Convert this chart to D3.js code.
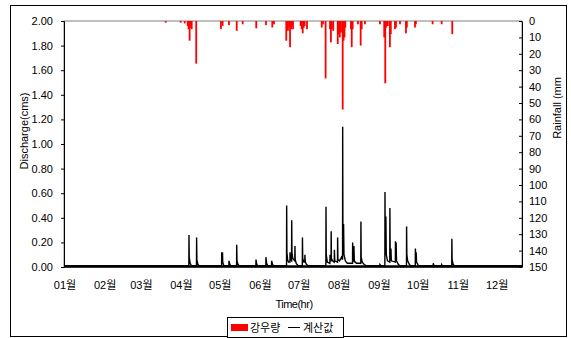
<!DOCTYPE html>
<html>
<head>
<meta charset="utf-8">
<script src="https://cdn.jsdelivr.net/npm/d3@7"></script>
<style>
  body { margin: 0; background: #fff; }
  text { font-family: "Liberation Sans", Arial, "Noto Sans CJK KR", sans-serif; fill: #000; }
</style>
</head>
<body>
<svg id="chart" width="571" height="338"></svg>
<script>
// month labels, placed at day of year
var monthDays = [0, 31, 59, 90, 120, 151, 181, 212, 243, 273, 304, 334];
var monthLabels = ["01월", "02월", "03월", "04월", "05월", "06월", "07월", "08월", "09월", "10월", "11월", "12월"];

var qTicks = [0, 0.2, 0.4, 0.6, 0.8, 1.0, 1.2, 1.4, 1.6, 1.8, 2.0];
var rainTicks = [0, 10, 20, 30, 40, 50, 60, 70, 80, 90, 100, 110, 120, 130, 140, 150];

// rainfall [day, mm]
var rainfall = [
  [78.6, 1], [90.2, 1], [93.3, 1.5], [95.6, 3], [96.3, 5], [97.1, 12], [97.8, 4], [98.7, 5], [102.2, 26],
  [121.3, 5], [122.6, 3], [127.5, 2.5], [133.5, 6], [138.1, 2], [148.6, 4.5], [156.1, 2.5], [161.0, 4], [162.3, 2],
  [171.8, 12], [172.4, 5], [173.1, 6], [174.0, 4], [174.7, 16], [175.5, 5], [176.2, 3], [177.0, 5],
  [182.9, 3], [183.7, 5], [184.5, 7.5], [185.3, 4], [186.0, 3], [187.8, 5],
  [199.2, 4], [200.2, 2], [202.2, 35],
  [205.6, 5], [206.3, 13], [207.0, 5], [208.1, 6],
  [211.6, 14], [212.3, 8], [213.2, 10], [214.1, 7], [215.4, 54], [216.1, 12], [216.8, 10], [217.4, 4],
  [221.8, 5], [222.4, 16], [223.1, 5], [227.2, 2], [229.3, 15], [230.1, 5], [232.6, 2],
  [244.2, 2], [247.5, 10], [248.3, 38], [249.0, 4], [250.3, 3], [251.9, 16], [252.6, 8],
  [255.8, 5], [256.6, 4], [259.7, 2], [264.3, 7.5], [265.0, 4], [271.3, 4], [272.0, 2],
  [284.9, 2], [291.9, 2], [300.1, 8]
];

// computed discharge [day, cms]
var discharge = [
  [0, 0.01],
  [96.5, 0.01], [96.6, 0.26], [96.8, 0.08], [97.5, 0.03], [98.5, 0.01],
  [102.4, 0.01], [102.5, 0.24], [102.7, 0.06], [103.5, 0.02], [104.5, 0.01],
  [121.8, 0.01], [121.9, 0.12], [122.1, 0.05], [122.5, 0.12], [122.7, 0.04], [123.5, 0.01],
  [127.4, 0.01], [127.5, 0.05], [128.2, 0.02], [129, 0.01],
  [133.4, 0.01], [133.5, 0.18], [133.7, 0.05], [134.5, 0.02], [135.5, 0.01],
  [148.3, 0.01], [148.4, 0.06], [149, 0.02], [150, 0.01],
  [156.0, 0.01], [156.1, 0.08], [156.6, 0.03], [157.5, 0.01],
  [160.4, 0.01], [160.5, 0.05], [161.2, 0.02], [162, 0.01],
  [172.0, 0.01], [172.1, 0.50], [172.3, 0.12], [172.8, 0.06], [173.5, 0.04],
  [174.6, 0.04], [174.7, 0.12], [175.0, 0.06], [175.9, 0.05], [176.0, 0.38], [176.2, 0.12], [176.8, 0.07],
  [178.4, 0.05], [178.5, 0.17], [178.7, 0.06], [179.5, 0.03], [181, 0.01],
  [184.2, 0.01], [184.3, 0.24], [184.5, 0.07], [185.4, 0.04], [186.1, 0.04], [186.2, 0.10], [186.5, 0.04], [187.5, 0.02], [189, 0.01],
  [202.4, 0.01], [202.5, 0.49], [202.7, 0.10], [203.5, 0.04], [205.5, 0.03], [205.6, 0.10], [205.9, 0.05],
  [206.4, 0.05], [206.5, 0.29], [206.7, 0.07], [207.5, 0.05], [208.9, 0.04], [209.0, 0.14], [209.3, 0.05],
  [211.4, 0.04], [211.5, 0.24], [211.7, 0.06], [213, 0.05], [214.5, 0.08], [215.3, 0.06], [215.4, 1.14],
  [215.6, 0.20], [216.0, 0.12], [216.1, 0.35], [216.4, 0.10], [217.5, 0.05], [219, 0.03],
  [223.0, 0.03], [223.1, 0.20], [223.4, 0.06], [224.0, 0.05], [224.1, 0.17], [224.4, 0.05], [226, 0.03],
  [229.4, 0.03], [229.5, 0.37], [229.7, 0.08], [230.5, 0.04], [232, 0.02], [234, 0.01],
  [244.1, 0.01], [244.2, 0.02], [245, 0.01],
  [248.0, 0.01], [248.1, 0.61], [248.3, 0.12], [248.7, 0.10], [248.8, 0.41], [249.1, 0.10], [250, 0.05],
  [251.8, 0.04], [251.9, 0.48], [252.1, 0.12], [252.6, 0.06], [252.7, 0.15], [253, 0.05],
  [256.1, 0.04], [256.2, 0.21], [256.5, 0.15], [256.7, 0.20], [257.0, 0.05], [258.5, 0.02], [260, 0.01],
  [264.7, 0.01], [264.8, 0.33], [265.0, 0.10], [265.6, 0.05], [267, 0.02], [268, 0.01],
  [271.5, 0.01], [271.6, 0.15], [271.9, 0.05], [272.2, 0.12], [272.5, 0.04], [274, 0.01],
  [285.3, 0.01], [285.4, 0.03], [286, 0.01],
  [291.8, 0.01], [291.9, 0.02], [292.5, 0.01],
  [299.7, 0.01], [299.8, 0.23], [300.0, 0.06], [300.8, 0.02], [302, 0.01],
  [354, 0.01]
];

function drawChart() {
    var svg = d3.select("#chart");

    var pLeft = 64, pRight = 522, pTop = 21, pBottom = 267;

    var x = d3.scaleLinear().domain([0, 354]).range([pLeft, pRight]);
    var yQ = d3.scaleLinear().domain([0, 2]).range([pBottom, pTop]);
    var yR = d3.scaleLinear().domain([0, 150]).range([pTop, pBottom]);

    // outer frame
    svg.append("rect")
        .attr("x", 10.5).attr("y", 5.5)
        .attr("width", 556).attr("height", 331)
        .attr("fill", "none").attr("stroke", "#000").attr("stroke-width", 1);

    // plot area border
    svg.append("rect")
        .attr("x", pLeft).attr("y", pTop)
        .attr("width", pRight - pLeft).attr("height", pBottom - pTop)
        .attr("fill", "#fff").attr("stroke", "#808080").attr("stroke-width", 1);

    // rain bars hanging from the top
    svg.append("g")
        .selectAll("rect")
        .data(rainfall)
        .enter().append("rect")
        .attr("x", function(d) { return x(d[0]) - 0.9; })
        .attr("y", yR(0))
        .attr("width", 1.8)
        .attr("height", function(d) { return yR(d[1]) - yR(0); })
        .attr("fill", "#ff0000");

    // discharge line
    var line = d3.line()
        .x(function(d) { return x(d[0]); })
        .y(function(d) { return yQ(d[1]); });

    svg.append("path")
        .datum(discharge)
        .attr("d", line)
        .attr("fill", "none")
        .attr("stroke", "#000")
        .attr("stroke-width", 1.4);

    // left axis
    var axL = svg.append("g")
        .attr("transform", "translate(" + pLeft + ",0)")
        .call(d3.axisLeft(yQ).tickValues(qTicks).tickSize(3).tickPadding(8).tickFormat(d3.format(".2f")));
    axL.select(".domain").attr("stroke", "#000");
    axL.selectAll("text").style("font-size", "11px");

    // right axis, ticks inside
    var axR = svg.append("g")
        .attr("transform", "translate(" + pRight + ",0)")
        .call(d3.axisRight(yR).tickValues(rainTicks).tickSize(0).tickPadding(7));
    axR.select(".domain").attr("stroke", "#000");
    axR.selectAll(".tick").append("line")
        .attr("x1", -3).attr("x2", 0).attr("stroke", "#000");
    axR.selectAll("text").style("font-size", "11px");

    // bottom axis (thick, merged with the base flow)
    svg.append("line")
        .attr("x1", pLeft).attr("x2", pRight)
        .attr("y1", pBottom - 0.5).attr("y2", pBottom - 0.5)
        .attr("stroke", "#000").attr("stroke-width", 2.5);

    svg.append("g")
        .selectAll("text")
        .data(monthDays)
        .enter().append("text")
        .attr("x", function(d) { return x(d) + 1; })
        .attr("y", 289)
        .attr("text-anchor", "middle")
        .style("font-size", "11px")
        .text(function(d, i) { return monthLabels[i]; });

    // axis titles
    svg.append("text")
        .attr("transform", "translate(28,131) rotate(-90)")
        .attr("text-anchor", "middle")
        .style("font-size", "11px")
        .text("Discharge(cms)");

    svg.append("text")
        .attr("transform", "translate(561,108) rotate(-90)")
        .attr("text-anchor", "middle")
        .style("font-size", "11px")
        .text("Rainfall (mm");

    svg.append("text")
        .attr("x", 294).attr("y", 308)
        .attr("text-anchor", "middle")
        .style("font-size", "11px")
        .style("letter-spacing", "-0.5px")
        .text("Time(hr)");

    // legend
    var lg = svg.append("g");
    lg.append("rect")
        .attr("x", 227.5).attr("y", 317.5)
        .attr("width", 116).attr("height", 20)
        .attr("fill", "#fff").attr("stroke", "#000");
    lg.append("rect")
        .attr("x", 231).attr("y", 324)
        .attr("width", 17).attr("height", 7)
        .attr("fill", "#ff0000");
    lg.append("text")
        .attr("x", 250).attr("y", 332)
        .style("font-size", "11px")
        .text("강우량");
    lg.append("line")
        .attr("x1", 288).attr("x2", 300)
        .attr("y1", 327.5).attr("y2", 327.5)
        .attr("stroke", "#000");
    lg.append("text")
        .attr("x", 303).attr("y", 332)
        .style("font-size", "11px")
        .text("계산값");
}

drawChart();
</script>
</body>
</html>
